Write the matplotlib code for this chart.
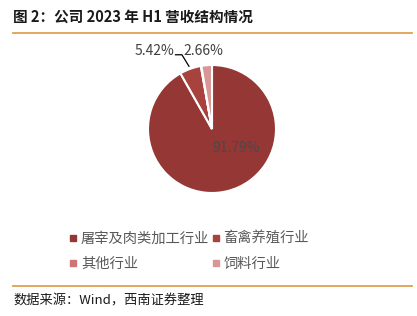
import matplotlib
matplotlib.use("Agg")
import matplotlib.pyplot as plt
import numpy as np
from matplotlib.lines import Line2D

plt.rcParams['font.family'] = ['Noto Sans CJK SC', 'DejaVu Sans']

categories = ['屠宰及肉类加工行业', '畜禽养殖行业', '其他行业', '饲料行业']
values = [91.79, 5.42, 0.13, 2.66]
pct_labels = ['91.79%', '5.42%', '', '2.66%']
colors = ['#943735', '#A7423F', '#CD7573', '#D99694']

W, H = 417, 316
fig = plt.figure(figsize=(W / 100, H / 100), dpi=100)

# title
fig.text(13 / W, 1 - 17 / H, '图 2：公司 2023 年 H1 营收结构情况', fontsize=10.5,
         fontweight='bold', color='#1a1a1a', va='center', ha='left')
# rules
line_color = '#DFA04F'
fig.add_artist(Line2D([13 / W, 412 / W], [1 - 32.5 / H, 1 - 32.5 / H], color=line_color, lw=1.3))
fig.add_artist(Line2D([13 / W, 412 / W], [1 - 286 / H, 1 - 286 / H], color=line_color, lw=1.3))
# source
fig.text(13 / W, 1 - 301 / H, '数据来源：Wind，西南证券整理', fontsize=9.5,
         style='italic', color='#1a1a1a', va='center', ha='left')

# pie axes: center (212,129) px, radius 64 px, 1 unit = 64 px
cx, cy, r = 212, 129, 64
ax = fig.add_axes([(cx - 2 * r) / W, (H - cy - 2 * r) / H, 4 * r / W, 4 * r / H])
wedges, _ = ax.pie(values, colors=colors, startangle=90, counterclock=False, radius=1,
                   wedgeprops=dict(edgecolor='white', linewidth=1.5))
ax.set_xlim(-2, 2)
ax.set_ylim(-2, 2)
ax.set_aspect('equal')
ax.axis('off')

# percentage labels
ax.text(0.38, -0.30, pct_labels[0], fontsize=10, color='#4a4a4a', ha='center', va='center')
ax.text(-0.90, 1.22, pct_labels[1], fontsize=10, color='#404040', ha='center', va='center')
ax.text(-0.13, 1.22, pct_labels[3], fontsize=10, color='#404040', ha='center', va='center')
ax.plot([-0.57, -0.47, -0.36], [1.16, 1.16, 0.98], color='black', lw=0.9)

# legend (row-wise order: 2 columns)
handles = [Line2D([], [], marker='s', linestyle='none', markersize=4.5,
                  markerfacecolor=c, markeredgecolor=c) for c in colors]
order = [0, 2, 1, 3]
leg = fig.legend([handles[i] for i in order], [categories[i] for i in order], ncol=2,
                 loc='upper left', bbox_to_anchor=(56 / W, 1 - 219 / H), frameon=False,
                 fontsize=10.3, handlelength=0.6, handletextpad=0.25,
                 columnspacing=0.15, labelspacing=0.78, labelcolor='#595959')

fig.savefig('out.png', dpi=100)
